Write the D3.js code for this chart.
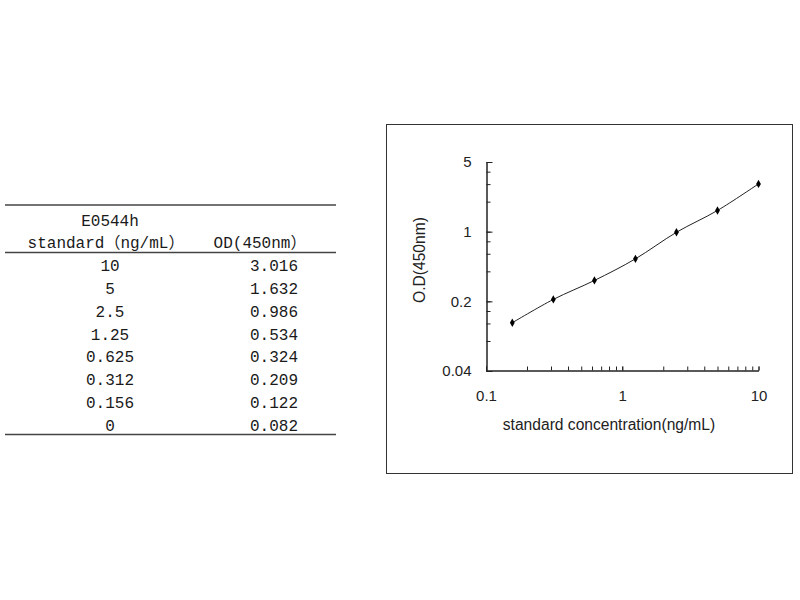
<!DOCTYPE html>
<html><head><meta charset="utf-8">
<script src="https://cdn.jsdelivr.net/npm/d3@7/dist/d3.min.js"></script>
<style>body{margin:0;background:#fff}svg{display:block}</style>
</head><body>
<svg id="c" width="800" height="600"></svg>
<script>
// ---- data ----
const standardLabels = ["10","5","2.5","1.25","0.625","0.312","0.156","0"];
const odLabels = ["3.016","1.632","0.986","0.534","0.324","0.209","0.122","0.082"];
const concentrations = [10,5,2.5,1.25,0.625,0.312,0.156,0];
const odValues = [3.016,1.632,0.986,0.534,0.324,0.209,0.122,0.082];
const yTicks = [5,4,3,2,1,0.8,0.6,0.4,0.2,0.16,0.12,0.08,0.04];
const yLabelTicks = [5,1,0.2,0.04];
const xTicks = [0.1,0.2,0.3,0.4,0.5,0.6,0.7,0.8,0.9,1,2,3,4,5,6,7,8,9,10];
const xLabelTicks = [0.1,1,10];

const svg = d3.select("#c");

// ---- table ----
const tFont = "'Liberation Mono','Noto Sans CJK SC',monospace";
const tbl = svg.append("g").attr("fill","#1a1a1a").style("font-family",tFont).style("font-size","16px");
[205,252.5,434.5].forEach(y=>{
  svg.append("line").attr("x1",5).attr("x2",336).attr("y1",y).attr("y2",y)
    .attr("stroke","#444").attr("stroke-width",1.6);
});
tbl.append("text").attr("x",110).attr("y",226).attr("text-anchor","middle").text("E0544h");
tbl.append("text").attr("x",106).attr("y",248).attr("text-anchor","middle").text("standard（ng/mL）");
tbl.append("text").attr("x",260).attr("y",248).attr("text-anchor","middle").text("OD(450nm）");
const rowY = d3.scaleLinear().domain([0,7]).range([271,431]);
standardLabels.forEach((s,i)=>{
  tbl.append("text").attr("x",110).attr("y",rowY(i)).attr("text-anchor","middle").text(s);
  tbl.append("text").attr("x",274).attr("y",rowY(i)).attr("text-anchor","middle").text(odLabels[i]);
});

// ---- chart frame ----
svg.append("rect").attr("x",386.5).attr("y",124.5).attr("width",406).attr("height",349)
  .attr("fill","none").attr("stroke","#333").attr("stroke-width",1);

const x = d3.scaleLog().domain([0.1,10]).range([486,758.5]);
const y = d3.scaleLog().domain([0.04,5]).range([371,162]);
const cFont = "'Liberation Sans',Arial,sans-serif";

// y axis
const gyMinor = svg.append("g").attr("transform","translate(486.5,0)")
  .call(d3.axisLeft(y).tickValues(yTicks).tickSize(-4).tickSizeOuter(0).tickFormat(""));
const gy = svg.append("g").attr("transform","translate(486.5,0)")
  .call(d3.axisLeft(y).tickValues(yLabelTicks).tickSize(-6).tickSizeOuter(0).tickPadding(15)
    .tickFormat(d=>String(d)));
// x axis
const gxMinor = svg.append("g").attr("transform","translate(0,370.5)")
  .call(d3.axisBottom(x).tickValues(xTicks).tickSize(-4).tickSizeOuter(0).tickFormat(""));
const gx = svg.append("g").attr("transform","translate(0,370.5)")
  .call(d3.axisBottom(x).tickValues(xLabelTicks).tickSize(-4).tickSizeOuter(0).tickPadding(20)
    .tickFormat(d=>String(d)));
[gyMinor,gy,gxMinor,gx].forEach(g=>{
  g.selectAll("path,line").attr("stroke","#222");
  g.selectAll("text").attr("fill","#222").style("font-family",cFont).style("font-size","15px");
});

// line + markers
const pts = concentrations.map((c,i)=>({c, v: odValues[i]})).filter(d=>d.c>0);
svg.append("path").datum(pts)
  .attr("d", d3.line().x(d=>x(d.c)).y(d=>y(d.v)).curve(d3.curveCardinal))
  .attr("fill","none").attr("stroke","#222").attr("stroke-width",1);
svg.append("g").selectAll("path").data(pts).join("path")
  .attr("transform",d=>`translate(${x(d.c)},${y(d.v)})`)
  .attr("d", d3.symbol().type(d3.symbolDiamond).size(20))
  .attr("fill","#000");

// axis titles
svg.append("text").attr("x",609).attr("y",430).attr("text-anchor","middle")
  .style("font-family",cFont).style("font-size","15.6px").attr("fill","#222")
  .text("standard concentration(ng/mL)");
svg.append("text").attr("transform","translate(425,260) rotate(-90)").attr("text-anchor","middle")
  .style("font-family",cFont).style("font-size","15.6px").attr("fill","#222")
  .text("O.D(450nm)");
</script>
</body></html>
